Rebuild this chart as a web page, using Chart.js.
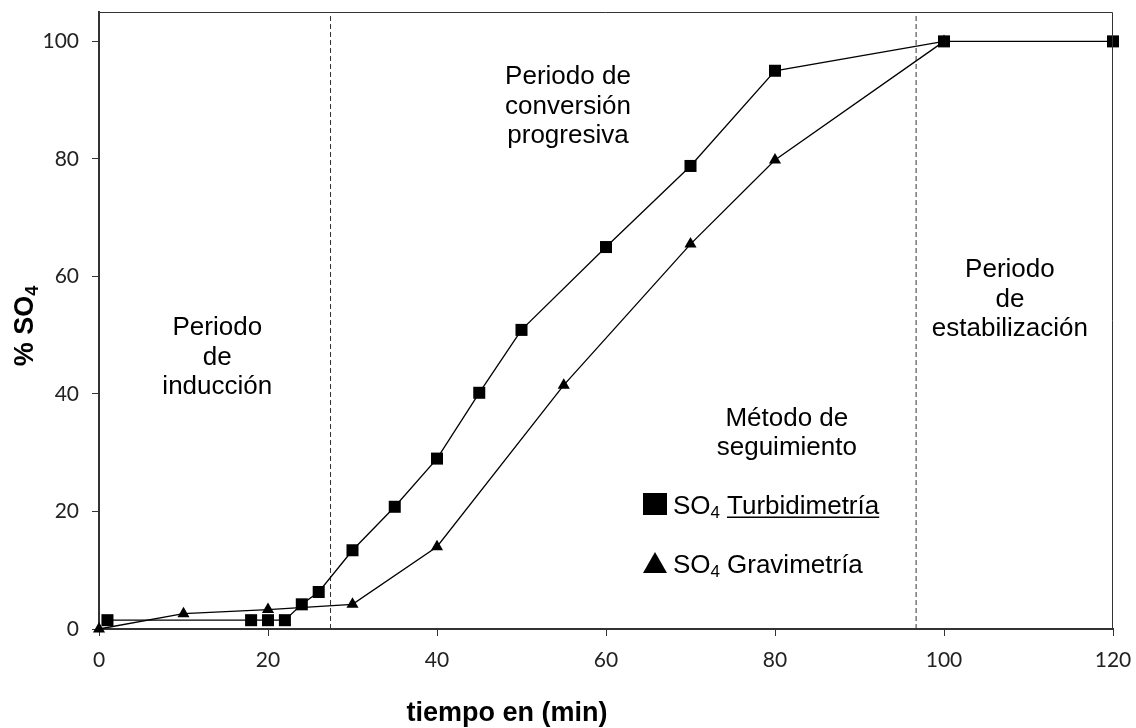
<!DOCTYPE html>
<html>
<head>
<meta charset="utf-8">
<script src="https://cdn.jsdelivr.net/npm/chart.js@4"></script>
<style>
  html, body { margin: 0; padding: 0; background: #fff; }
  #wrap { width: 1136px; height: 728px; }
</style>
</head>
<body>
<div id="wrap"><canvas id="myChart" width="1136" height="728"></canvas></div>
<script>
// datos
var turbTime = [1, 18, 20, 22, 24, 26, 30, 35, 40, 45, 50, 60, 70, 80, 100, 120];
var turbSO4 = [1.5, 1.5, 1.5, 1.5, 4.2, 6.3, 13.4, 20.8, 29, 40.2, 50.9, 65, 78.8, 95, 100, 100];
var gravTime = [0, 10, 20, 30, 40, 55, 70, 80, 100];
var gravSO4 = [0, 2.6, 3.3, 4.2, 14, 41.5, 65.5, 79.8, 100];
var dividers = [27.4, 96.7];
var xTicks = [0, 20, 40, 60, 80, 100, 120];
var yTicks = [0, 20, 40, 60, 80, 100];

// etiquetas de los periodos (posicion en unidades del grafico)
var periodLabels = [
    { x: 55.5, y: 94.2, lines: ['Periodo de', 'conversión', 'progresiva'] },
    { x: 14, y: 51.5, lines: ['Periodo', 'de', 'inducción'] },
    { x: 107.8, y: 61.4, lines: ['Periodo', 'de', 'estabilización'] },
    { x: 81.4, y: 36.1, lines: ['Método de', 'seguimiento'] }
];

var FONT = '"Liberation Sans", Arial, sans-serif';

function toPoints(xs, ys) {
    return xs.map(function(x, i) { return { x: x, y: ys[i] }; });
}

var dividerSets = dividers.map(function(d) {
    return {
        data: [{ x: d, y: 0 }, { x: d, y: 105 }],
        borderColor: '#333',
        borderWidth: 1,
        borderDash: [5, 3],
        pointRadius: 0,
        showLine: true
    };
});

// texto y leyenda dibujados encima
var extrasPlugin = {
    id: 'extras',
    afterDraw: function(chart) {
        var ctx = chart.ctx;
        var xs = chart.scales.x, ys = chart.scales.y, a = chart.chartArea;
        ctx.save();
        // marco superior y derecho
        ctx.strokeStyle = '#333';
        ctx.lineWidth = 1;
        ctx.beginPath();
        ctx.moveTo(a.left, a.top + 0.5);
        ctx.lineTo(a.right - 0.5, a.top + 0.5);
        ctx.lineTo(a.right - 0.5, a.bottom);
        ctx.stroke();

        ctx.fillStyle = '#000';
        ctx.font = '26px ' + FONT;
        ctx.textAlign = 'center';
        ctx.textBaseline = 'alphabetic';
        periodLabels.forEach(function(p) {
            var px = xs.getPixelForValue(p.x), py = ys.getPixelForValue(p.y);
            p.lines.forEach(function(line, i) {
                ctx.fillText(line, px, py + 9 + i * 29.5);
            });
        });

        // leyenda
        var lx = 643, ly1 = 504, ly2 = 562;
        ctx.fillRect(lx, ly1 - 11, 24, 22);
        ctx.beginPath();
        ctx.moveTo(lx, ly2 + 11);
        ctx.lineTo(lx + 12, ly2 - 10);
        ctx.lineTo(lx + 24, ly2 + 11);
        ctx.closePath();
        ctx.fill();
        ctx.textAlign = 'left';
        [[514, 'Turbidimetría', true], [573, 'Gravimetría', false]].forEach(function(it) {
            var base = it[0], x = 673;
            ctx.font = '26px ' + FONT;
            ctx.fillText('SO', x, base);
            x += ctx.measureText('SO').width;
            ctx.font = '17px ' + FONT;
            ctx.fillText('4', x, base + 4);
            x += ctx.measureText('4').width + 7;
            ctx.font = '26px ' + FONT;
            ctx.fillText(it[1], x, base);
            if (it[2]) {
                var w = ctx.measureText(it[1]).width;
                ctx.fillRect(x, base + 2.5, w, 1.5);
            }
        });

        // titulos de ejes
        ctx.font = 'bold 27px ' + FONT;
        ctx.textAlign = 'center';
        ctx.fillText('tiempo en (min)', 507, 721);
        ctx.translate(33, 326);
        ctx.rotate(-Math.PI / 2);
        ctx.textAlign = 'left';
        var t1 = '% SO';
        var w1 = ctx.measureText(t1).width;
        ctx.font = 'bold 18px ' + FONT;
        var w2 = ctx.measureText('4').width;
        var sx = -(w1 + w2) / 2;
        ctx.font = 'bold 27px ' + FONT;
        ctx.fillText(t1, sx, 0);
        ctx.font = 'bold 18px ' + FONT;
        ctx.fillText('4', sx + w1, 5);
        ctx.restore();
    }
};

var ctx = document.getElementById('myChart').getContext('2d');
var chart = new Chart(ctx, {
    type: 'scatter',
    data: {
        datasets: [{
            label: 'SO4 Turbidimetría',
            data: toPoints(turbTime, turbSO4),
            showLine: true,
            borderColor: '#000',
            borderWidth: 1.3,
            pointStyle: 'rect',
            pointRadius: 8.5,
            pointBackgroundColor: '#000',
            pointBorderWidth: 0,
            clip: false
        }, {
            label: 'SO4 Gravimetría',
            data: toPoints(gravTime, gravSO4),
            showLine: true,
            borderColor: '#000',
            borderWidth: 1.3,
            pointStyle: 'triangle',
            pointRadius: 7,
            pointBackgroundColor: '#000',
            pointBorderWidth: 0,
            clip: false
        }].concat(dividerSets)
    },
    options: {
        responsive: false,
        animation: false,
        layout: { padding: { top: 12, right: 23, left: 0, bottom: 0 } },
        plugins: { legend: { display: false }, tooltip: { enabled: false } },
        scales: {
            x: {
                type: 'linear',
                min: 0,
                max: 120,
                afterFit: function(s) {
                    s.height = 99;
                    s.paddingLeft = 0;
                    s.paddingRight = 0;
                },
                afterBuildTicks: function(s) { s.ticks = xTicks.map(function(v) { return { value: v }; }); },
                grid: { drawOnChartArea: false, tickLength: 7, color: '#333' },
                border: { color: '#333', width: 2 },
                ticks: { padding: 12, color: '#222', font: { family: 'Lato, "Open Sans", sans-serif', size: 21 }, maxRotation: 0 }
            },
            y: {
                min: 0,
                max: 105,
                afterFit: function(s) {
                    s.width = 99;
                    s.paddingTop = 0;
                    s.paddingBottom = 0;
                },
                afterBuildTicks: function(s) { s.ticks = yTicks.map(function(v) { return { value: v }; }); },
                grid: { drawOnChartArea: false, tickLength: 7, color: '#333' },
                border: { color: '#333', width: 2 },
                ticks: { padding: 13, color: '#222', font: { family: 'Lato, "Open Sans", sans-serif', size: 21 } }
            }
        }
    },
    plugins: [extrasPlugin]
});
</script>
</body>
</html>
